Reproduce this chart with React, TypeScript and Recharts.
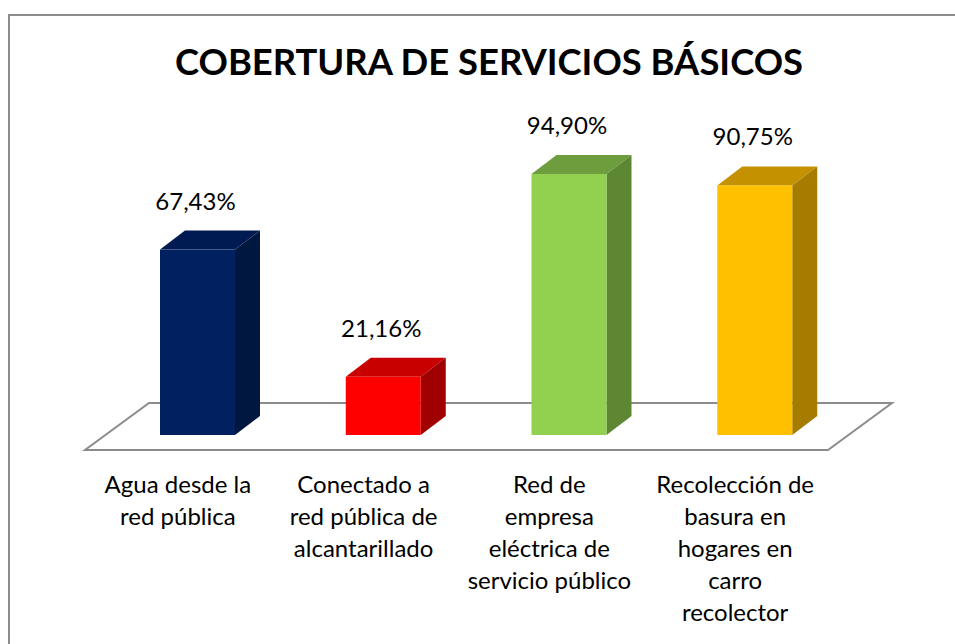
import { Bar, BarChart, LabelList, ReferenceArea, XAxis, YAxis } from 'recharts'

// categories (line breaks as in the original axis labels)
const categories = [
  'Agua desde la\nred pública',
  'Conectado a\nred pública de\nalcantarillado',
  'Red de\nempresa\neléctrica de\nservicio público',
  'Recolección de\nbasura en\nhogares en\ncarro\nrecolector',
]
const coverage = [67.43, 21.16, 94.9, 90.75]

const frontColors = ['#002060', '#FF0000', '#92D050', '#FFC000']
const topColors = ['#001B52', '#C80000', '#6E9D3D', '#C49200']
const sideColors = ['#00173F', '#A00000', '#5E8734', '#A57B00']

const FONT = 'Lato, "Open Sans", sans-serif'
const DEPTH_X = 25
const DEPTH_Y = 19

const data = categories.map((name, i) => ({ name, value: coverage[i] }))

function formatPct(v: number): string {
  return v.toFixed(2).replace('.', ',') + '%'
}

function Bar3D(props: any) {
  const { x, y, width, height, index } = props
  const i = index ?? 0
  return (
    <g>
      <polygon
        points={`${x},${y} ${x + DEPTH_X},${y - DEPTH_Y} ${x + width + DEPTH_X},${y - DEPTH_Y} ${x + width},${y}`}
        fill={topColors[i]}
      />
      <polygon
        points={`${x + width},${y} ${x + width + DEPTH_X},${y - DEPTH_Y} ${x + width + DEPTH_X},${y + height - DEPTH_Y} ${x + width},${y + height}`}
        fill={sideColors[i]}
      />
      <rect x={x} y={y} width={width} height={height} fill={frontColors[i]} />
    </g>
  )
}

function Floor(props: any) {
  const { x, y, width, height } = props
  const fy = y + height + 15
  const by = y + height - 32
  return (
    <polygon
      points={`${x - 20},${fy} ${x + width - 20},${fy} ${x + width + 44},${by} ${x + 44},${by}`}
      fill="#fff"
      stroke="#8c8c8c"
      strokeWidth={2}
    />
  )
}

function CategoryTick(props: any) {
  const { x, y, payload } = props
  const lines = String(payload.value).split('\n')
  const cx = x - 20
  return (
    <text x={cx} y={y + 50} textAnchor="middle" fontFamily={FONT} fontSize={24} fill="#000">
      {lines.map((line, i) => (
        <tspan key={i} x={cx} dy={i === 0 ? 0 : 32}>
          {line}
        </tspan>
      ))}
    </text>
  )
}

function ValueLabel(props: any) {
  const { x, y, width, value } = props
  return (
    <text x={x + width / 2 - 2} y={y - 40} textAnchor="middle" fontFamily={FONT} fontSize={24} fill="#000">
      {formatPct(Number(value))}
    </text>
  )
}

export default function App() {
  return (
    <div style={{ position: 'absolute', left: 0, top: 0, width: 955, height: 644, background: '#fff', overflow: 'hidden' }}>
      <div
        style={{
          position: 'absolute',
          left: 8,
          top: 14,
          width: 1000,
          height: 700,
          borderLeft: '2px solid #8c8c8c',
          borderTop: '2px solid #8c8c8c',
        }}
      />
      <svg width={955} height={100} style={{ position: 'absolute', left: 0, top: 0 }}>
        <text
          x={489}
          y={75}
          textAnchor="middle"
          fontFamily={FONT}
          fontWeight="bold"
          fontSize={37}
          fill="#000"
          textLength={628}
          lengthAdjust="spacingAndGlyphs"
        >
          COBERTURA DE SERVICIOS BÁSICOS
        </text>
      </svg>
      <div style={{ position: 'absolute', left: 0, top: 0 }}>
        <BarChart width={955} height={644} data={data} margin={{ top: 160, right: 107, left: 105, bottom: 59 }}>
          <ReferenceArea y1={0} y2={100} shape={<Floor />} />
          <XAxis dataKey="name" interval={0} height={150} tickLine={false} axisLine={false} tick={<CategoryTick />} />
          <YAxis hide domain={[0, 100]} />
          <Bar dataKey="value" barSize={75} shape={<Bar3D />} isAnimationActive={false}>
            <LabelList dataKey="value" content={<ValueLabel />} />
          </Bar>
        </BarChart>
      </div>
    </div>
  )
}
